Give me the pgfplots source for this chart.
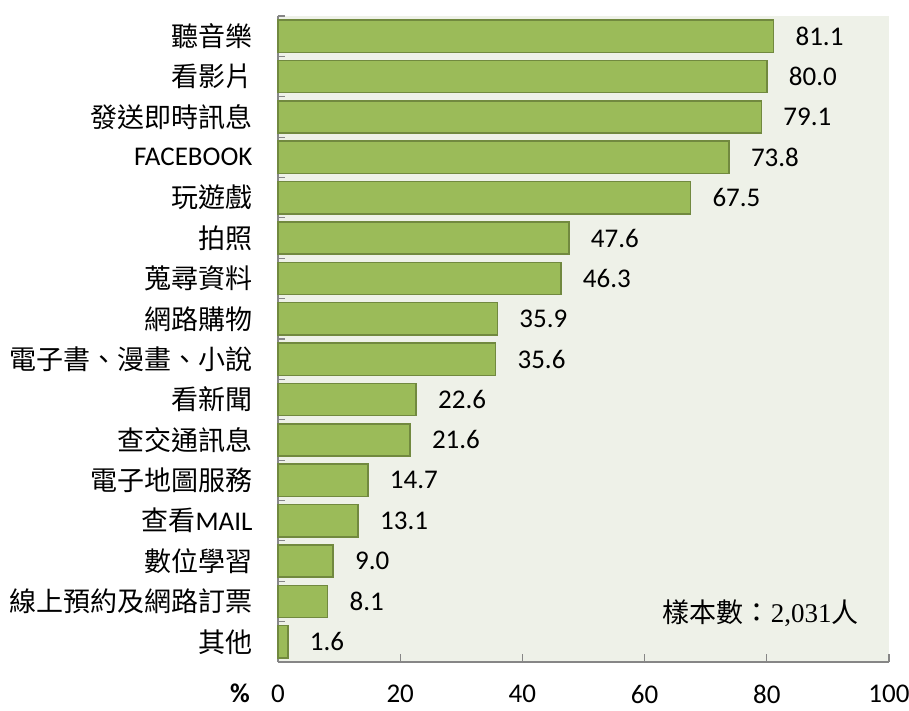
\documentclass[border=0pt]{standalone}
\usepackage{fontspec}
\usepackage{pgfplots}
\pgfplotsset{compat=1.18}
\setmainfont{Carlito}
\newfontfamily\cjk{Noto Sans CJK TC}
\newfontfamily\serifnum{Liberation Serif}
\definecolor{barfill}{RGB}{155,187,89}
\definecolor{baredge}{RGB}{113,137,63}
\definecolor{plotbg}{RGB}{238,241,232}
\definecolor{axgray}{RGB}{134,134,134}
\newcommand{\bigf}{\fontsize{27}{31}\selectfont}
\begin{document}
\begin{tikzpicture}
\begin{axis}[
  name=ax,
  scale only axis,
  width=611pt, height=646pt,
  xmin=0, xmax=100,
  ymin=-0.5, ymax=15.5,
  y dir=reverse,
  xbar, bar width=0.8,
  axis background/.style={fill=plotbg},
  axis x line*=bottom, axis y line*=left,
  axis line style={axgray, line width=1.8pt},
  xtick={0,20,...,100},
  ytick={0,...,15},
  minor ytick={-0.5,0.5,...,15.5},
  major tick length=8pt, minor tick length=7pt,
  tick align=inside,
  tick style={axgray, line width=1.2pt},
  y tick style={draw=none},
  minor y tick style={draw=axgray, line width=1.2pt},
  /pgf/number format/assume math mode=true,
  tick label style={font=\bigf, text=black},
  xticklabel style={inner sep=0pt, text depth=0pt, yshift=-23pt},
  yticklabel style={xshift=-22pt},
  yticklabels={{\cjk 聽音樂},{\cjk 看影片},{\cjk 發送即時訊息},FACEBOOK,{\cjk 玩遊戲},{\cjk 拍照},{\cjk 蒐尋資料},{\cjk 網路購物},{\cjk 電子書、漫畫、小說},{\cjk 看新聞},{\cjk 查交通訊息},{\cjk 電子地圖服務},{{\cjk 查看}MAIL},{\cjk 數位學習},{\cjk 線上預約及網路訂票},{\cjk 其他}},
  nodes near coords,
  nodes near coords style={font=\bigf, text=black, anchor=west, xshift=18pt, yshift=0pt,
    /pgf/number format/.cd, fixed, fixed zerofill, precision=1, assume math mode=true},
  clip=false,
]
\addplot[fill=barfill, draw=baredge, line width=1.5pt] coordinates {
  (81.1,0) (80.0,1) (79.1,2) (73.8,3) (67.5,4) (47.6,5) (46.3,6) (35.9,7)
  (35.6,8) (22.6,9) (21.6,10) (14.7,11) (13.1,12) (9.0,13) (8.1,14) (1.6,15)
};
\node[font=\bigf] at (axis cs:79,14.3) {{\cjk 樣本數：}{\serifnum 2,031}{\cjk 人}};
\end{axis}
\node[font=\bigf\bfseries, inner sep=0pt] at ([shift={(-38pt,-31pt)}]ax.south west) {\%};
\pgfresetboundingbox
\path[use as bounding box] ([shift={(-278pt,-49pt)}]ax.south west) rectangle ([shift={(631pt,662pt)}]ax.south west);
\end{tikzpicture}
\end{document}
